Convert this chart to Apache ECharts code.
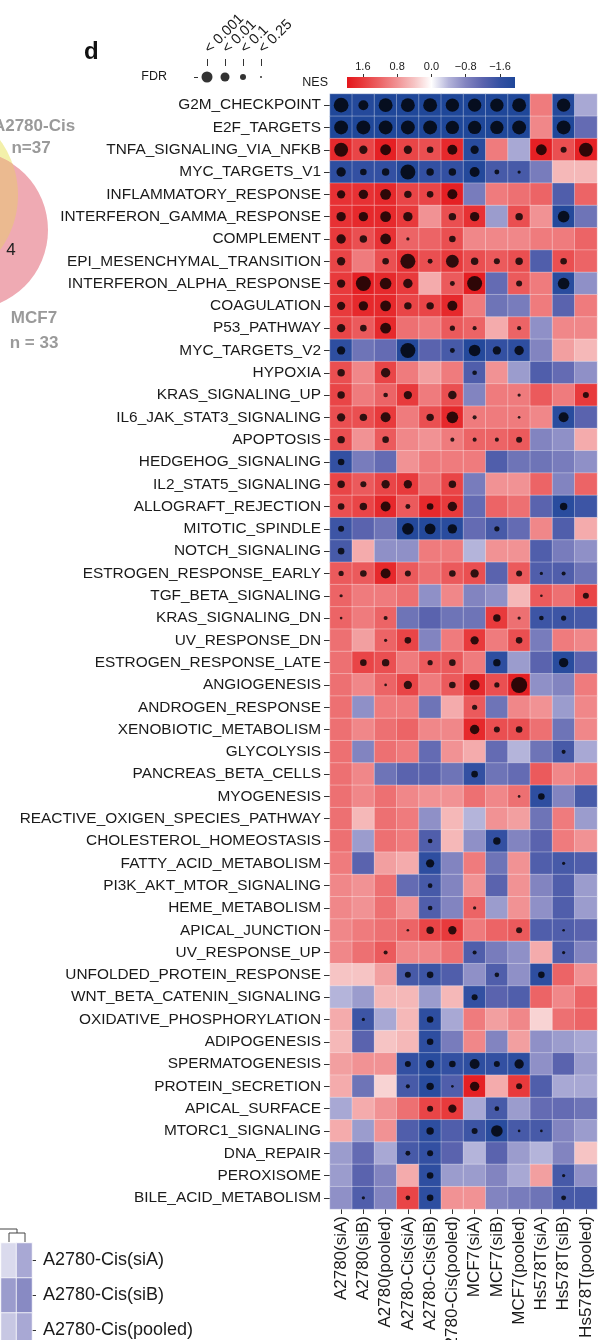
<!DOCTYPE html>
<html>
<head>
<meta charset="utf-8">
<script src="https://cdn.jsdelivr.net/npm/echarts@6/dist/echarts.min.js"></script>
<style>
  html, body { margin: 0; padding: 0; background: #ffffff; }
  #chart { width: 602px; height: 1340px; }
</style>
</head>
<body>
<div id="chart"></div>
<script>
// Hallmark gene sets (rows, top to bottom)
const pathways = [
  'G2M_CHECKPOINT','E2F_TARGETS','TNFA_SIGNALING_VIA_NFKB','MYC_TARGETS_V1','INFLAMMATORY_RESPONSE',
  'INTERFERON_GAMMA_RESPONSE','COMPLEMENT','EPI_MESENCHYMAL_TRANSITION','INTERFERON_ALPHA_RESPONSE','COAGULATION',
  'P53_PATHWAY','MYC_TARGETS_V2','HYPOXIA','KRAS_SIGNALING_UP','IL6_JAK_STAT3_SIGNALING',
  'APOPTOSIS','HEDGEHOG_SIGNALING','IL2_STAT5_SIGNALING','ALLOGRAFT_REJECTION','MITOTIC_SPINDLE',
  'NOTCH_SIGNALING','ESTROGEN_RESPONSE_EARLY','TGF_BETA_SIGNALING','KRAS_SIGNALING_DN','UV_RESPONSE_DN',
  'ESTROGEN_RESPONSE_LATE','ANGIOGENESIS','ANDROGEN_RESPONSE','XENOBIOTIC_METABOLISM','GLYCOLYSIS',
  'PANCREAS_BETA_CELLS','MYOGENESIS','REACTIVE_OXIGEN_SPECIES_PATHWAY','CHOLESTEROL_HOMEOSTASIS','FATTY_ACID_METABOLISM',
  'PI3K_AKT_MTOR_SIGNALING','HEME_METABOLISM','APICAL_JUNCTION','UV_RESPONSE_UP','UNFOLDED_PROTEIN_RESPONSE',
  'WNT_BETA_CATENIN_SIGNALING','OXIDATIVE_PHOSPHORYLATION','ADIPOGENESIS','SPERMATOGENESIS','PROTEIN_SECRETION',
  'APICAL_SURFACE','MTORC1_SIGNALING','DNA_REPAIR','PEROXISOME','BILE_ACID_METABOLISM'
];

// Knockdown samples (columns, left to right)
const samples = [
  'A2780(siA)','A2780(siB)','A2780(pooled)','A2780-Cis(siA)','A2780-Cis(siB)','A2780-Cis(pooled)',
  'MCF7(siA)','MCF7(siB)','MCF7(pooled)','Hs578T(siA)','Hs578T(siB)','Hs578T(pooled)'
];

// Normalized enrichment score, one row per gene set
const nes = [
  [-2.0,-1.9,-2.0,-2.0,-2.0,-2.0,-2.0,-2.0,-2.0, 1.0,-1.9,-0.5],
  [-2.0,-2.0,-2.0,-2.0,-2.0,-2.0,-2.0,-2.0,-2.0, 0.9,-2.0,-1.1],
  [ 1.8, 1.5, 1.9, 1.5, 1.4, 1.8,-1.8, 1.0,-0.5, 1.9, 1.4, 1.9],
  [-1.7,-1.6,-1.6,-1.9,-1.6,-1.6,-1.9,-1.4,-1.4,-0.9, 0.5, 0.5],
  [ 1.7, 1.7, 1.8, 1.5, 1.5, 1.9,-0.9, 1.0, 1.1, 1.2,-1.3, 1.2],
  [ 1.7, 1.8, 1.8, 1.6, 0.8, 1.4, 1.7,-0.6, 1.4, 0.8,-1.9,-1.0],
  [ 1.6, 1.4, 1.7, 1.2, 1.2, 1.4, 0.9, 0.9, 0.9, 1.0, 1.0, 1.2],
  [ 1.5, 1.0, 1.4, 1.7, 1.4, 1.6, 1.4, 1.3, 1.4,-1.3, 1.4, 1.2],
  [ 1.6, 1.9, 1.8, 1.6, 0.6, 1.3, 1.9,-1.1, 1.3, 1.0,-1.8,-0.7],
  [ 1.6, 1.8, 1.8, 1.5, 1.5, 1.8, 1.0,-1.0,-0.9, 1.0,-1.2, 1.0],
  [ 1.5, 1.3, 1.8, 1.1, 1.0, 1.3, 1.2, 0.6, 1.2,-0.7, 0.9, 0.9],
  [-1.7,-1.0,-1.1,-1.9,-1.2,-1.4,-1.9,-1.6,-1.7,-0.8, 0.7, 0.5],
  [ 1.4, 0.9, 1.5, 1.0, 0.7, 1.0,-1.3, 0.8,-0.6,-1.3,-1.1,-0.7],
  [ 1.5, 1.0, 1.2, 1.6, 1.0, 1.4,-0.8, 1.0, 1.0, 1.3, 1.0, 1.6],
  [ 1.4, 1.4, 1.6, 1.0, 1.4, 1.8, 1.0, 1.0, 1.0, 0.9,-1.8,-1.2],
  [ 1.4, 0.8, 1.3, 0.9, 0.8, 1.0, 1.2, 1.2, 1.3,-0.8,-0.7, 0.6],
  [-1.6,-0.9,-1.1, 0.8, 1.0, 1.0, 1.0,-1.3,-1.0,-1.0,-0.9,-0.7],
  [ 1.5, 1.3, 1.5, 1.6, 1.1, 1.5,-0.9, 0.8, 0.8, 1.2,-0.8, 1.2],
  [ 1.4, 1.5, 1.8, 1.3, 1.8, 1.6,-1.1, 1.2, 1.1,-1.2,-1.8,-1.5],
  [-1.5,-1.2,-1.0,-1.9,-1.9,-1.8,-1.1,-1.4,-1.1, 0.9,-1.3, 0.6],
  [-1.4, 0.6,-0.7,-0.7, 1.0, 1.0,-0.4, 0.8, 0.8,-1.3,-0.9,-0.7],
  [ 1.3, 1.3, 1.8, 1.3, 1.1, 1.3, 1.4,-1.2, 1.3,-1.3,-1.3,-1.0],
  [ 1.2, 1.0, 1.0, 1.1,-0.7, 0.9,-0.8,-0.7, 0.5, 1.3, 1.1, 1.5],
  [ 1.2, 1.0, 1.2,-1.0,-1.2,-1.0,-1.0, 1.6, 1.1,-1.5,-1.5,-1.4],
  [ 1.1, 0.7, 1.2, 1.5,-0.8, 1.0, 1.6, 1.0, 1.4,-0.9, 1.0, 0.9],
  [ 1.1, 1.5, 1.4, 1.0, 1.3, 1.3, 1.0,-1.7,-0.6,-1.2,-1.8,-1.2],
  [ 1.1, 0.9, 1.2, 1.5, 1.0, 1.3, 1.8, 1.4, 1.9,-0.7,-0.8, 1.0],
  [ 1.1,-0.7, 1.0, 1.0,-1.0, 0.6, 1.3,-1.0, 0.9, 0.8,-0.6, 0.9],
  [ 1.1, 0.9, 1.1, 1.2, 0.9, 0.9, 1.8, 1.4, 1.4, 1.1,-1.0, 0.9],
  [ 1.1,-0.8, 1.1, 1.0,-1.1, 0.8, 0.6,-1.1,-0.4,-1.0,-1.4,-0.5],
  [ 1.1, 0.9,-1.0,-1.2,-1.2,-1.0,-1.6,-1.0,-1.1, 1.3, 0.9, 1.0],
  [ 1.1, 0.9, 1.1, 0.9, 0.8, 0.8, 1.1, 0.9, 1.1,-1.7,-0.8,-1.4],
  [ 1.1, 0.5, 1.1, 1.0,-0.7, 0.5,-0.4, 0.8, 0.7,-1.0, 1.0,-0.6],
  [ 1.1,-0.6, 1.1, 1.0,-1.3, 0.5,-0.7,-1.6,-0.8,-1.2, 1.0, 0.8],
  [ 1.0,-1.2, 0.7, 0.6,-1.7,-0.8, 1.0,-1.0, 0.8,-1.3,-1.4,-1.3],
  [ 0.9, 0.8, 1.1,-1.1,-1.4,-0.8, 0.8,-1.2, 0.8,-0.8,-1.3,-0.6],
  [ 0.9, 0.8, 1.1, 0.8,-1.3,-0.8, 1.2,-0.6, 0.8,-0.7,-1.3,-0.6],
  [ 0.9, 1.0, 1.1, 1.2, 1.5, 1.6, 1.0, 1.2, 1.3,-1.3,-1.3,-1.2],
  [ 0.9, 1.1, 1.3, 0.9, 0.9, 1.1,-1.3,-0.9,-0.7, 0.6,-1.3,-0.8],
  [ 0.4, 0.4, 0.7,-1.4,-1.5,-1.3,-0.7,-1.3,-0.7,-1.7, 1.2, 0.8],
  [-0.4,-0.6, 0.5, 0.5,-0.6, 0.5,-1.6,-1.2,-1.3, 1.2, 0.9, 1.2],
  [ 0.6,-1.5,-0.5, 0.5,-1.7,-0.5, 1.0, 0.7, 0.9, 0.3, 1.1, 1.2],
  [ 0.5,-1.2, 0.4, 0.5,-1.7,-0.9, 0.9,-0.8, 0.7,-0.7,-0.6,-0.5],
  [ 0.7, 0.8, 0.8,-1.6,-1.8,-1.6,-1.7,-1.6,-1.7,-0.7,-1.2,-0.6],
  [ 0.6,-1.0, 0.3,-1.4,-1.8,-1.3, 1.9, 0.6, 1.6,-1.3,-0.5,-0.5],
  [-0.5, 0.6, 0.8, 1.1, 1.5, 1.6,-0.5,-1.4,-0.6,-1.1,-1.1,-1.0],
  [ 0.6,-0.6, 0.8,-1.3,-1.7,-1.3,-1.5,-1.8,-1.4,-1.4,-0.8,-0.6],
  [-0.6,-1.1,-0.5,-1.4,-1.6,-1.2,-0.4,-1.2,-0.6,-0.4,-0.8, 0.4],
  [-0.6,-1.2,-0.8, 0.6,-1.7,-0.6,-0.6,-0.8,-0.5, 0.7,-1.4,-0.7],
  [-0.7,-1.3,-0.8, 1.5,-1.7, 0.8, 0.8,-0.8,-0.9,-1.0,-1.4,-1.4]
];

// -log10(FDR) per cell; 0 means not significant (no dot)
const fdrScore = [
  [4.9,3.2,4.6,4.6,4.6,4.4,4.4,4.4,4.6,0,4.4,0],
  [4.6,4.6,4.6,4.6,4.6,4.4,4.4,4.4,4.6,0,4.6,0],
  [4.6,2.6,3.5,2.6,2.0,3.2,2.6,0,0,3.5,1.8,4.6],
  [3.0,2.0,2.3,5.0,2.3,2.3,3.2,1.4,0.8,0,0,0],
  [2.6,3.0,3.5,2.3,2.0,3.2,0,0,0,0,0,0],
  [3.0,3.0,3.5,3.0,0,2.3,3.0,0,2.3,0,3.8,0],
  [3.0,2.3,3.5,0.8,0,2.0,0,0,0,0,0,0],
  [2.6,0,2.0,5.0,1.4,4.2,2.3,1.8,2.3,0,2.0,0],
  [2.6,5.0,3.8,3.0,0,1.4,5.0,0,1.8,0,3.8,0],
  [2.6,3.0,3.5,2.3,2.3,3.2,0,0,0,0,0,0],
  [2.6,2.0,3.5,0,0,1.5,1.1,0,1.1,0,0,0],
  [2.6,0,0,5.0,0,1.4,3.8,2.6,3.0,0,0,0],
  [2.3,0,3.0,0,0,0,1.3,0,0,0,0,0],
  [2.3,0,1.3,2.6,0,2.7,0,0,0.8,0,0,1.8],
  [2.6,2.3,3.2,0,2.3,3.8,1.1,0,0.6,0,3.2,0],
  [2.3,0,2.0,0,0,1.1,1.1,1.1,1.8,0,0,0],
  [2.0,0,0,0,0,0,0,0,0,0,0,0],
  [2.3,1.8,2.6,2.6,0,2.3,0,0,0,0,0,0],
  [2.0,2.3,3.2,1.4,2.0,3.0,0,0,0,0,2.3,0],
  [1.8,0,0,3.8,3.5,3.0,0,1.5,0,0,0,0],
  [2.0,0,0,0,0,0,0,0,0,0,0,0],
  [1.5,2.0,3.2,1.8,0,2.0,2.6,0,1.8,0.8,1.1,0],
  [0.8,0,0,0,0,0,0,0,0,0.6,0,1.8],
  [0.6,0,1.1,0,0,0,0,2.3,0.8,1.3,1.5,0],
  [0,0,0.8,2.0,0,0,2.6,0,2.0,0,0,0],
  [0,2.0,2.3,0,1.5,2.0,0,2.3,0,0,3.0,0],
  [0,0,0.6,2.6,0,2.0,3.2,1.5,5.4,0,0,0],
  [0,0,0,0,0,0,1.5,0,0,0,0,0],
  [0,0,0,0,0,0,3.0,1.8,2.0,0,0,0],
  [0,0,0,0,0,0,0,0,0,0,1.1,0],
  [0,0,0,0,0,0,2.0,0,0,0,0,0],
  [0,0,0,0,0,0,0,0,0.6,2.0,0,0],
  [0,0,0,0,0,0,0,0,0,0,0,0],
  [0,0,0,0,1.3,0,0,2.3,0,0,0,0],
  [0,0,0,0,2.6,0,0,0,0,0,0.8,0],
  [0,0,0,0,1.3,0,0,0,0,0,0,0],
  [0,0,0,0,1.3,0,0.8,0,0,0,0,0],
  [0,0,0,0.6,2.3,2.6,0,0,1.8,0,0.6,0],
  [0,0,1.1,0,0,0,1.1,0,0,0,0.8,0],
  [0,0,0,1.8,2.0,0,0,1.3,0,2.0,0,0],
  [0,0,0,0,0,0,1.8,0,0,0,0,0],
  [0,0.8,0,0,2.0,0,0,0,0,0,0,0],
  [0,0,0,0,2.0,0,0,0,0,0,0,0],
  [0,0,0,1.8,2.6,2.0,3.2,1.8,3.0,0,0,0],
  [0,0,0,1.1,2.3,0.6,3.0,0,1.8,0,0,0],
  [0,0,0,0,1.8,2.6,0,1.3,0,0,0,0],
  [0,0,0,0,2.3,0,1.8,3.8,0.6,0.6,0,0],
  [0,0,0,1.4,1.8,0,0,0,0,0,0,0],
  [0,0,0,0,2.0,0,0,0,0,0,0.8,0],
  [0,0.8,0,1.3,2.0,0,0,0,0,0,1.4,0]
];

// FDR legend categories and colour-bar tick values
const fdrLegend = ['< 0.001', '< 0.01', '< 0.1', '< 0.25'];
const nesTicks = [1.6, 0.8, 0.0, -0.8, -1.6];

// Neighbouring panel: part of a sample heatmap at the lower left
const fragSamples = ['A2780-Cis(siA)', 'A2780-Cis(siB)', 'A2780-Cis(pooled)'];
const fragValues = [[-0.2, -0.5], [-0.6, -0.75], [-0.3, -0.5]];

// ---- styling ----
const FONT = "'Liberation Sans', Arial, Helvetica, sans-serif";
const TXT = '#1a1a1a';
const nesMin = -2, nesMax = 2;
const nesColors = ['#1F4799','#3350A2','#5A63AE','#8284C0','#B4B4DA','#FFFFFF',
                   '#F6C4C4','#F19294','#EC6466','#E83A3C','#E4171C'];
const barLeftVal = 1.97, barRightVal = -1.95;
const legendDotSizes = [11, 9, 6, 2];
const dotSize = v => 1 + 2.8 * v;

const heatData = [];
const dotData = [];
nes.forEach((row, r) => row.forEach((v, c) => {
  heatData.push([c, r, v]);
  if (fdrScore[r][c] > 0) dotData.push([c, r, fdrScore[r][c]]);
}));

const fragData = [];
fragValues.forEach((row, r) => row.forEach((v, c) => fragData.push([c, r, v])));

// colour-bar gradient uses the same stops as the visual map
const barStops = nesColors.map((col, i) => {
  const v = nesMin + i * (nesMax - nesMin) / (nesColors.length - 1);
  let off = (barLeftVal - v) / (barLeftVal - barRightVal);
  off = Math.max(0, Math.min(1, off));
  return { offset: off, color: col };
}).sort((a, b) => a.offset - b.offset);

// Venn circles of the neighbouring panel and the outline of their overlap
const vennA = { cx: -75, cy: 195, r: 93 };
const vennB = { cx: -31.5, cy: 230, r: 79.5 };
function arcPoints(c, a0, a1, n) {
  const pts = [];
  for (let i = 0; i <= n; i++) {
    const t = (a0 + (a1 - a0) * i / n) * Math.PI / 180;
    pts.push([c.cx + c.r * Math.cos(t), c.cy + c.r * Math.sin(t)]);
  }
  return pts;
}
const overlapPts = arcPoints(vennA, -19.5, 97.2, 60).concat(arcPoints(vennB, 133.9, 303.8, 80));

const chart = echarts.init(document.getElementById('chart'), null, { renderer: 'canvas' });

const gridBase = { containLabel: false, outerBoundsMode: 'none' };

const option = {
  backgroundColor: '#ffffff',
  animation: false,
  textStyle: { fontFamily: FONT },
  title: {
    text: 'd', left: 79, top: 35,
    textStyle: { fontSize: 24, fontWeight: 'bold', color: '#111', fontFamily: FONT }
  },
  grid: [
    Object.assign({ left: 330, top: 94, width: 267, height: 1115 }, gridBase),
    Object.assign({ left: 198, top: 66, width: 72, height: 22 }, gridBase),
    Object.assign({ left: 347, top: 77, width: 168, height: 11 }, gridBase),
    Object.assign({ left: 1, top: 1243, width: 31, height: 105 }, gridBase)
  ],
  xAxis: [
    {
      type: 'category', gridIndex: 0, data: samples, position: 'bottom',
      axisLine: { show: false },
      axisTick: { show: true, alignWithLabel: true, length: 5, lineStyle: { color: '#333' } },
      axisLabel: { rotate: 90, interval: 0, fontSize: 17, margin: 7, color: TXT, fontFamily: FONT },
      splitLine: { show: false }
    },
    {
      type: 'category', gridIndex: 1, data: fdrLegend, position: 'top',
      axisLine: { show: false },
      axisTick: { show: true, alignWithLabel: true, length: 7, lineStyle: { color: '#333' } },
      axisLabel: { rotate: -45, interval: 0, fontSize: 14.5, margin: 15, color: TXT, fontFamily: FONT }
    },
    {
      type: 'value', gridIndex: 2, min: barRightVal, max: barLeftVal, inverse: true, position: 'top',
      axisLine: { show: false }, splitLine: { show: false },
      axisTick: { show: true, customValues: nesTicks, length: 3, lineStyle: { color: '#333' } },
      axisLabel: {
        customValues: nesTicks, fontSize: 11, margin: 5, color: TXT, fontFamily: FONT,
        formatter: v => (v < 0 ? '\u2212' + Math.abs(v).toFixed(1) : v.toFixed(1))
      }
    },
    {
      type: 'category', gridIndex: 3, data: ['a', 'b'], show: false
    }
  ],
  yAxis: [
    {
      type: 'category', gridIndex: 0, data: pathways, inverse: true,
      axisLine: { show: false },
      axisTick: { show: true, alignWithLabel: true, length: 6, lineStyle: { color: '#333' } },
      axisLabel: { interval: 0, fontSize: 15.4, margin: 9, color: TXT, fontFamily: FONT },
      splitLine: { show: false }
    },
    {
      type: 'category', gridIndex: 1, data: ['FDR'],
      axisLine: { show: false },
      axisTick: { show: true, alignWithLabel: true, length: 4, lineStyle: { color: '#333' } },
      axisLabel: { fontSize: 12.5, margin: 31, color: TXT, fontFamily: FONT }
    },
    {
      type: 'category', gridIndex: 2, data: ['NES'],
      axisLine: { show: false }, axisTick: { show: false },
      axisLabel: { fontSize: 12.5, margin: 19, color: TXT, fontFamily: FONT }
    },
    {
      type: 'category', gridIndex: 3, data: fragSamples, inverse: true, position: 'right',
      axisLine: { show: false },
      axisTick: { show: true, alignWithLabel: true, length: 4, lineStyle: { color: '#333' } },
      axisLabel: { interval: 0, fontSize: 18, margin: 11, color: TXT, fontFamily: FONT }
    }
  ],
  visualMap: {
    type: 'continuous', show: false, min: nesMin, max: nesMax, dimension: 2,
    seriesIndex: [0, 4], inRange: { color: nesColors }
  },
  series: [
    {
      type: 'heatmap', xAxisIndex: 0, yAxisIndex: 0, data: heatData, silent: true,
      progressive: 0,
      itemStyle: { borderColor: 'rgba(255,255,255,0.45)', borderWidth: 0.7 }
    },
    {
      type: 'scatter', xAxisIndex: 0, yAxisIndex: 0, data: dotData, silent: true,
      symbol: 'circle', symbolSize: d => dotSize(d[2]),
      itemStyle: { color: '#000' }, z: 5
    },
    {
      type: 'scatter', xAxisIndex: 1, yAxisIndex: 1, silent: true,
      data: fdrLegend.map((f, i) => [i, 0]),
      symbol: 'circle', symbolSize: (d) => legendDotSizes[d[0]],
      itemStyle: { color: '#000' }
    },
    {
      type: 'custom', xAxisIndex: 2, yAxisIndex: 2, silent: true, data: [[0, 0]],
      renderItem: (params, api) => {
        const cs = params.coordSys;
        const a = api.coord([barLeftVal, 0]);
        const b = api.coord([barRightVal, 0]);
        return {
          type: 'rect',
          shape: { x: a[0], y: cs.y, width: b[0] - a[0], height: cs.height },
          style: {
            fill: { type: 'linear', x: 0, y: 0, x2: 1, y2: 0, colorStops: barStops, global: false }
          }
        };
      }
    },
    {
      type: 'heatmap', xAxisIndex: 3, yAxisIndex: 3, data: fragData, silent: true,
      itemStyle: { borderColor: 'rgba(255,255,255,0.8)', borderWidth: 1 }
    }
  ],
  graphic: [
    { type: 'circle', shape: { cx: vennA.cx, cy: vennA.cy, r: vennA.r }, style: { fill: '#F3F0AA' }, z: 1 },
    { type: 'circle', shape: { cx: vennB.cx, cy: vennB.cy, r: vennB.r }, style: { fill: '#EFAAB3' }, z: 2 },
    { type: 'polygon', z: 3, shape: { points: overlapPts }, style: { fill: '#EBBA90' } },
    { type: 'text', x: 34, y: 118, z: 4,
      style: { text: 'A2780-Cis', fill: '#9a9a9a', font: "bold 17px 'Liberation Sans', Arial, sans-serif", textAlign: 'center' } },
    { type: 'text', x: 31, y: 140, z: 4,
      style: { text: 'n=37', fill: '#9a9a9a', font: "bold 17px 'Liberation Sans', Arial, sans-serif", textAlign: 'center' } },
    { type: 'text', x: 11, y: 242, z: 4,
      style: { text: '4', fill: '#222', font: "17px 'Liberation Sans', Arial, sans-serif", textAlign: 'center' } },
    { type: 'text', x: 34, y: 310, z: 4,
      style: { text: 'MCF7', fill: '#9a9a9a', font: "bold 17px 'Liberation Sans', Arial, sans-serif", textAlign: 'center' } },
    { type: 'text', x: 34, y: 335, z: 4,
      style: { text: 'n = 33', fill: '#9a9a9a', font: "bold 17px 'Liberation Sans', Arial, sans-serif", textAlign: 'center' } },
    { type: 'polyline', shape: { points: [[0, 1229], [17, 1229], [17, 1233]] },
      style: { stroke: '#444', lineWidth: 1, fill: null } },
    { type: 'polyline', shape: { points: [[9, 1242], [9, 1233], [25, 1233], [25, 1242]] },
      style: { stroke: '#444', lineWidth: 1, fill: null } }
  ]
};

chart.setOption(option);
</script>
</body>
</html>
